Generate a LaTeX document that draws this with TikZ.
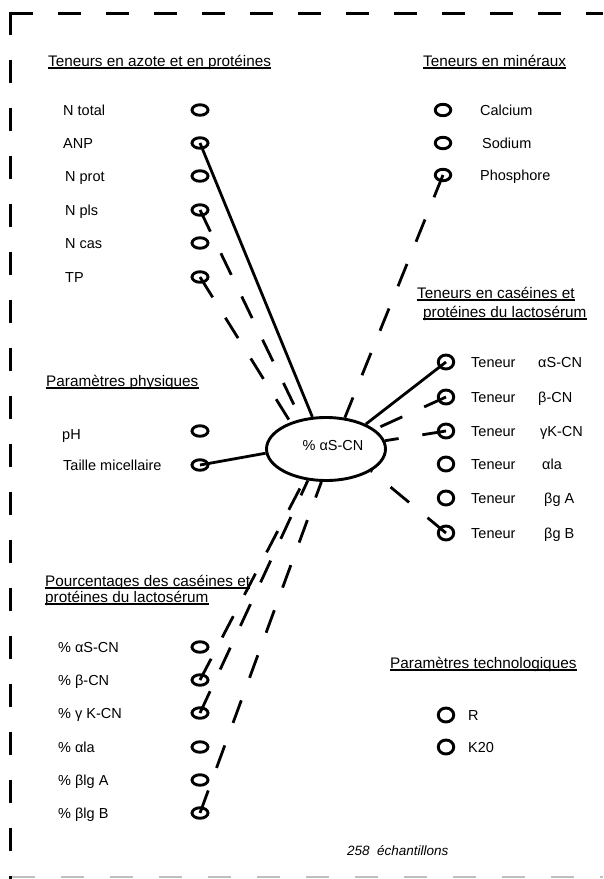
\documentclass[tikz,border=0pt]{standalone}
\usepackage{fontspec}
\setmainfont{Liberation Sans}
\usetikzlibrary{shapes.geometric}
\newcommand{\mytitle}[3]{%
  \node[ttl] (#1) at #2 {#3};
  \draw[uline] ([yshift=-2pt]#1.base west) -- ([yshift=-2pt]#1.base east);}
\begin{document}
\begin{tikzpicture}[x=1pt,y=-1pt,
  lab/.style={anchor=base west,inner sep=0pt,font=\fontsize{14.5}{17}\selectfont},
  ttl/.style={anchor=base west,inner sep=0pt,font=\fontsize{15.3}{18}\selectfont},
  uline/.style={line width=1.3pt},
  dotl/.style={draw,ellipse,line width=2.9pt,minimum width=16pt,minimum height=10.5pt,inner sep=0pt},
  dotm/.style={dotl,minimum width=15.5pt,minimum height=11.5pt},
  dotr/.style={dotl,minimum width=15.5pt,minimum height=14pt},
  conn/.style={line width=2.8pt},
  dconn/.style={line width=2.8pt,dash pattern=on 24pt off 24pt},
  bordline/.style={line width=3pt,dash pattern=on 23pt off 25pt}
]
\useasboundingbox (0,0) rectangle (603,879);
\fill[white] (0,0) rectangle (603,879);

% frame
\draw[bordline] (10,13) -- (603,13);
\draw[bordline] (10,11.5) -- (10,879);
\draw[gray!50,line width=1.5pt,dash pattern=on 23pt off 26pt] (12,877) -- (603,877);

% titles
\mytitle{t1}{(48,66)}{Teneurs en azote et en protéines}
\mytitle{t2}{(423,66)}{Teneurs en minéraux}
\mytitle{t3a}{(417,298)}{Teneurs en caséines et}
\mytitle{t3b}{(423,317)}{protéines du lactosérum}
\mytitle{t4}{(46,386)}{Paramètres physiques}
\mytitle{t5a}{(45,586)}{Pourcentages des caséines et}
\mytitle{t5b}{(45,602)}{protéines du lactosérum}
\mytitle{t6}{(390,668)}{Paramètres technologiques}

% central ellipse
\node[draw,ellipse,line width=2.9pt,minimum width=119pt,minimum height=63pt,inner sep=0pt] (ell) at (326,449) {};
\node[lab,anchor=center] (elltxt) at (333,446) {\% αS-CN};

% left column: azote
\node[lab] (lntot) at (63,115) {N total};  \node[dotl] (ntot) at (200,110) {};
\node[lab] (lanp)  at (63,148) {ANP};      \node[dotl] (anp)  at (200,143) {};
\node[lab] (lnpro) at (65,181) {N prot};   \node[dotl] (npro) at (200,176) {};
\node[lab] (lnpls) at (65,215) {N pls};    \node[dotl] (npls) at (200,210) {};
\node[lab] (lncas) at (65,248) {N cas};    \node[dotl] (ncas) at (200,243) {};
\node[lab] (ltp)   at (65,282) {TP};       \node[dotl] (tp)   at (200,277) {};

% physiques
\node[lab] (lph)  at (62,439) {pH};                 \node[dotl] (ph)  at (200,431) {};
\node[lab] (ltai) at (63,470) {Taille micellaire};  \node[dotl] (tai) at (200,465) {};

% pourcentages
\node[lab] (lpas) at (58,652) {\% αS-CN};   \node[dotl] (pas) at (200,647) {};
\node[lab] (lpbc) at (58,685) {\% β-CN};    \node[dotl] (pbc) at (200,680) {};
\node[lab] (lpgk) at (58,718) {\% γ K-CN};  \node[dotl] (pgk) at (200,713) {};
\node[lab] (lpal) at (58,752) {\% αla};     \node[dotl] (pal) at (200,747) {};
\node[lab] (lpba) at (58,785) {\% βlg A};   \node[dotl] (pba) at (200,780) {};
\node[lab] (lpbb) at (58,818) {\% βlg B};   \node[dotl] (pbb) at (200,813) {};

% minéraux
\node[dotm] (ca) at (443,110) {}; \node[lab] (lca) at (480,115) {Calcium};
\node[dotm] (na) at (443,143) {}; \node[lab] (lna) at (482,148) {Sodium};
\node[dotm] (ph2) at (443,175) {}; \node[lab] (lph2) at (480,180) {Phosphore};

% teneurs caséines
\node[dotr] (tas) at (446,362) {}; \node[lab] (ltas) at (471,367) {Teneur}; \node[lab] (mtas) at (538,367) {αS-CN};
\node[dotr] (tbc) at (446,397) {}; \node[lab] (ltbc) at (471,402) {Teneur}; \node[lab] (mtbc) at (538,402) {β-CN};
\node[dotr] (tgk) at (446,431) {}; \node[lab] (ltgk) at (471,436) {Teneur}; \node[lab] (mtgk) at (540,436) {γK-CN};
\node[dotr] (tal) at (446,464) {}; \node[lab] (ltal) at (471,469) {Teneur}; \node[lab] (mtal) at (542,469) {αla};
\node[dotr] (tba) at (446,498) {}; \node[lab] (ltba) at (471,503) {Teneur}; \node[lab] (mtba) at (544,503) {βg A};
\node[dotr] (tbb) at (446,533) {}; \node[lab] (ltbb) at (471,538) {Teneur}; \node[lab] (mtbb) at (544,538) {βg B};

% technologiques
\node[dotr] (r) at (446,715) {};   \node[lab] (lr) at (468,720) {R};
\node[dotr] (k20) at (446,747) {}; \node[lab] (lk20) at (468,752) {K20};

\node[anchor=base west,inner sep=0pt,font=\fontsize{13.5}{16}\selectfont\itshape] (nech) at (347,855) {258\ \ échantillons};

% solid connectors
\draw[conn] (anp.center) -- (ell.113);
\draw[conn] (tai.center) -- (ell.184);
\draw[conn] (tas.center) -- (ell.32);

% dashed connectors
\draw[dconn] (npls.center) -- (ell.130);
\draw[dconn] (tp.center) -- (ell.143);
\draw[dconn] (ph2.center) -- (ell.59);
\draw[dconn] (tbc.center) -- (ell.22);
\draw[dconn] (tgk.center) -- (ell.8);
\draw[dconn] (tbb.center) -- (ell.-26);
\draw[dconn] (pbc.center) -- (ell.235);
\draw[dconn] (pgk.center) -- (ell.240);
\draw[dconn] (pbb.center) -- (ell.262);
\end{tikzpicture}
\end{document}
